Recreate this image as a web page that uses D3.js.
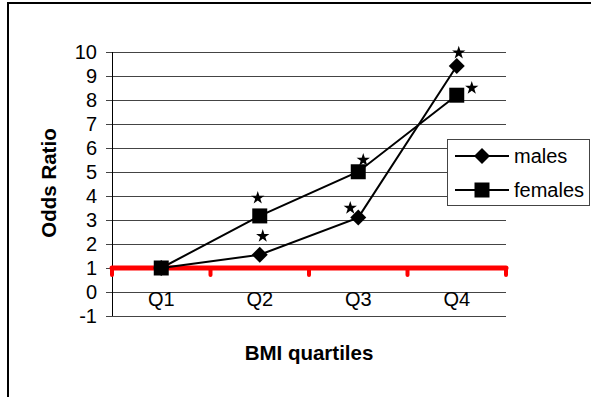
<!DOCTYPE html>
<html>
<head>
<meta charset="utf-8">
<script src="https://cdn.jsdelivr.net/npm/d3@7"></script>
<style>
  body { margin: 0; background: #fff; }
  text { font-family: "Liberation Sans", Arial, sans-serif; }
</style>
</head>
<body>
<script>

var quartiles = ['Q1', 'Q2', 'Q3', 'Q4'];
var males = [1.0, 1.55, 3.1, 9.42];
var females = [1.0, 3.17, 5.01, 8.2];
// significance stars (value where each star sits)
var maleStars = [null, 2.33, 3.5, 9.97];
var femaleStars = [null, 3.92, 5.5, 8.5];
var yTicks = [-1, 0, 1, 2, 3, 4, 5, 6, 7, 8, 9, 10];
var refValue = 1;

var svgwidth = 591, svgheight = 397;

var margins = { top: 52, left: 112, right: 85, bottom: 81 };

var svg = d3.select('body').append('svg')
            .attr('width', svgwidth)
            .attr('height', svgheight);

// outer chart border (runs off the picture at right and bottom)
svg.append('rect')
   .attr('x', 8).attr('y', 3)
   .attr('width', 640).attr('height', 440)
   .attr('fill', 'none')
   .attr('stroke', '#000')
   .attr('stroke-width', 2);

var xscale = d3.scaleBand()
               .domain(quartiles)
               .range([margins.left, svgwidth - margins.right]);

var yscale = d3.scaleLinear()
               .domain([-1, 10])
               .range([svgheight - margins.bottom, margins.top]);

var cx = function(q){ return xscale(q) + xscale.bandwidth()/2; };

// gridlines
svg.selectAll('.grid').data(yTicks).enter()
   .append('line')
   .attr('x1', margins.left - 6)
   .attr('x2', svgwidth - margins.right)
   .attr('y1', function(d){ return Math.round(yscale(d)) + 0.5; })
   .attr('y2', function(d){ return Math.round(yscale(d)) + 0.5; })
   .attr('stroke', '#444')
   .attr('stroke-width', 1);

// y axis line
svg.append('line')
   .attr('x1', margins.left + 0.5).attr('x2', margins.left + 0.5)
   .attr('y1', yscale(10)).attr('y2', yscale(-1))
   .attr('stroke', '#000');

// y tick labels
svg.selectAll('.ylab').data(yTicks).enter()
   .append('text')
   .attr('x', margins.left - 15)
   .attr('y', function(d){ return yscale(d) + 7; })
   .attr('text-anchor', 'end')
   .attr('font-size', 20)
   .text(function(d){ return d; });

// red reference axis at 1, with tick marks at category boundaries
var bounds = quartiles.map(function(q){ return xscale(q); }).concat([xscale.range()[1]]);

svg.append('line')
   .attr('x1', xscale.range()[0]).attr('x2', xscale.range()[1])
   .attr('y1', yscale(refValue)).attr('y2', yscale(refValue))
   .attr('stroke', '#ff0000')
   .attr('stroke-width', 5)
   .attr('stroke-linecap', 'round');

svg.selectAll('.redtick').data(bounds).enter()
   .append('line')
   .attr('x1', function(d){ return d; })
   .attr('x2', function(d){ return d; })
   .attr('y1', yscale(refValue))
   .attr('y2', yscale(refValue) + 7)
   .attr('stroke', '#ff0000')
   .attr('stroke-width', 4)
   .attr('stroke-linecap', 'round');

// category labels
svg.selectAll('.xlab').data(quartiles).enter()
   .append('text')
   .attr('x', function(d){ return cx(d); })
   .attr('y', yscale(0) + 14)
   .attr('text-anchor', 'middle')
   .attr('font-size', 20)
   .text(function(d){ return d; });

// axis titles
svg.append('text')
   .attr('transform', 'translate(56,183) rotate(-90)')
   .attr('text-anchor', 'middle')
   .attr('font-size', 20.5)
   .attr('font-weight', 'bold')
   .text('Odds Ratio');

svg.append('text')
   .attr('x', 309).attr('y', 360)
   .attr('text-anchor', 'middle')
   .attr('font-size', 20.5)
   .attr('font-weight', 'bold')
   .text('BMI quartiles');

// series
var line = d3.line()
             .x(function(d, i){ return cx(quartiles[i]); })
             .y(function(d){ return yscale(d); });

var diamond = function(s){ return 'M0,' + (-s) + 'L' + s + ',0L0,' + s + 'L' + (-s) + ',0Z'; };
var square = function(s){ return 'M' + (-s) + ',' + (-s) + 'h' + (2*s) + 'v' + (2*s) + 'h' + (-2*s) + 'Z'; };

var series = [
  { name: 'males', values: males, marker: diamond(8) },
  { name: 'females', values: females, marker: square(7.5) }
];

series.forEach(function(s){
  svg.append('path')
     .attr('d', line(s.values))
     .attr('fill', 'none')
     .attr('stroke', '#000')
     .attr('stroke-width', 2);

  svg.selectAll('.m-' + s.name).data(s.values).enter()
     .append('path')
     .attr('d', s.marker)
     .attr('transform', function(d, i){ return 'translate(' + cx(quartiles[i]) + ',' + yscale(d) + ')'; })
     .attr('fill', '#000');
});

// stars, nudged sideways so they sit beside the markers
var maleNudge = [0, 3, -8, 2];
var femaleNudge = [0, -2, 5, 15];
var star = d3.symbol().type(d3.symbolStar).size(55);

var drawStars = function(vals, nudge){
  vals.forEach(function(v, i){
    if (v === null) return;
    svg.append('path')
       .attr('d', star())
       .attr('transform', 'translate(' + (cx(quartiles[i]) + nudge[i]) + ',' + yscale(v) + ')')
       .attr('fill', '#000');
  });
};
drawStars(maleStars, maleNudge);
drawStars(femaleStars, femaleNudge);

// legend
var legend = svg.append('g');
legend.append('rect')
      .attr('x', 447.5).attr('y', 139.5)
      .attr('width', 142).attr('height', 66)
      .attr('fill', '#fff')
      .attr('stroke', '#444');

series.forEach(function(s, i){
  var ly = 156 + i*34;
  legend.append('line')
        .attr('x1', 455).attr('x2', 509)
        .attr('y1', ly).attr('y2', ly)
        .attr('stroke', '#000').attr('stroke-width', 2);
  legend.append('path')
        .attr('d', s.marker)
        .attr('transform', 'translate(482,' + ly + ')')
        .attr('fill', '#000');
  legend.append('text')
        .attr('x', 514).attr('y', ly + 7)
        .attr('font-size', 20)
        .text(s.name);
});

</script>
</body>
</html>
